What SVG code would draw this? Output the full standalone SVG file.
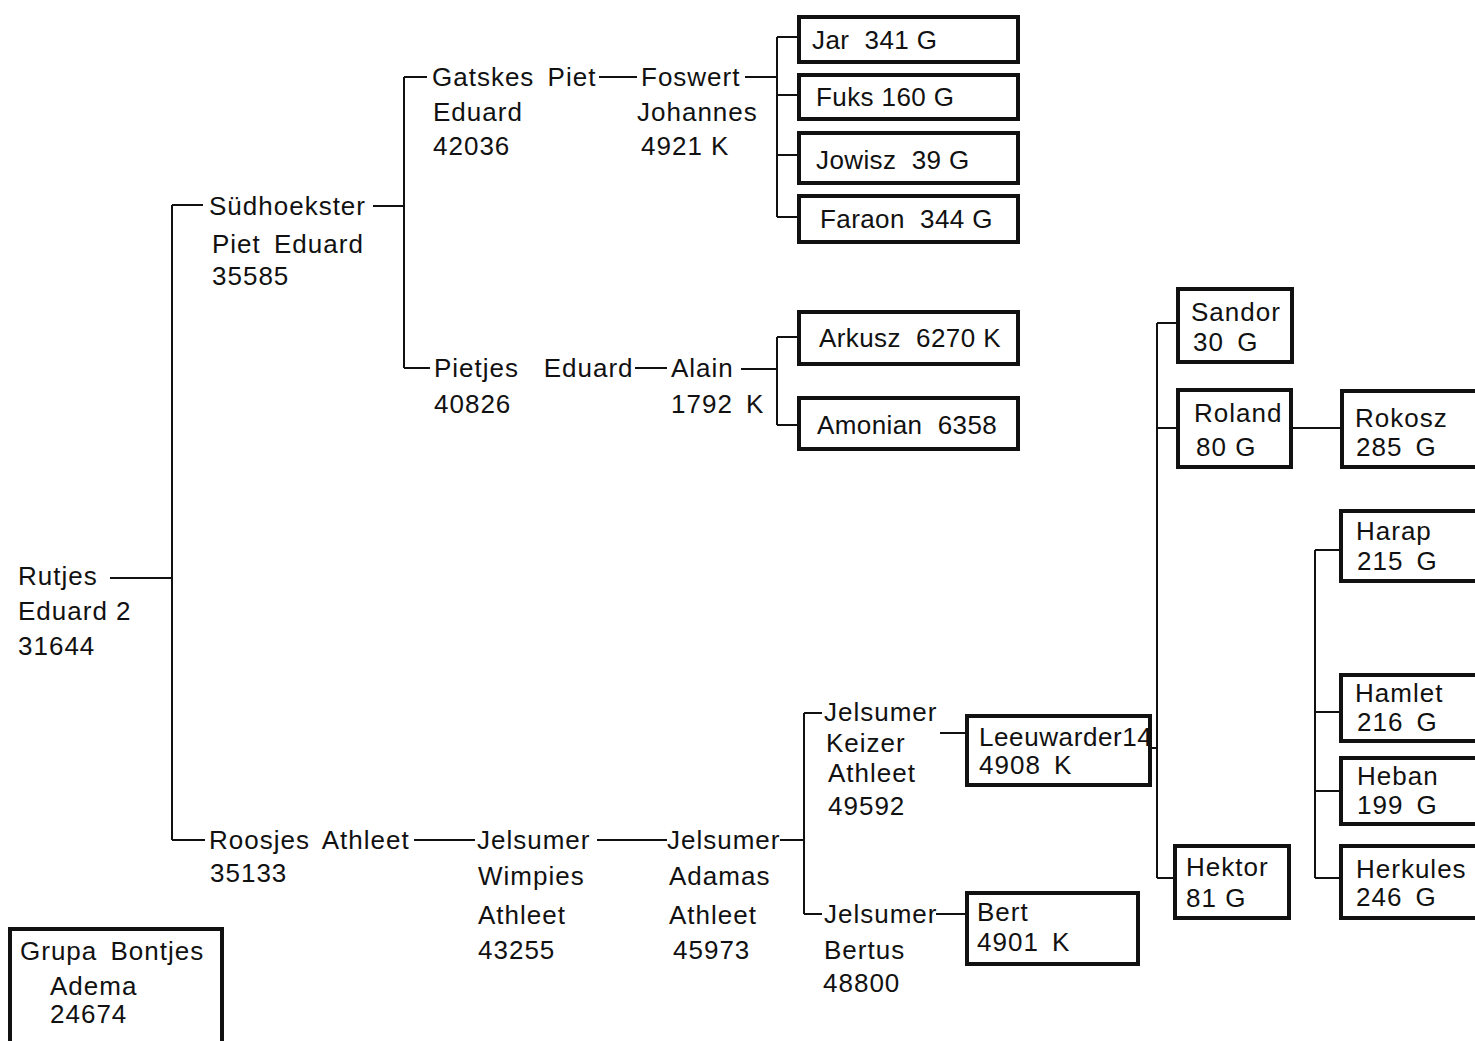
<svg xmlns="http://www.w3.org/2000/svg" width="1475" height="1041" viewBox="0 0 1475 1041">
<style>
text{font-family:"Liberation Sans","DejaVu Sans",sans-serif;font-size:26px;letter-spacing:1px;fill:#111;white-space:pre}
.ws{word-spacing:5px}
.nb{letter-spacing:0.4px}
.ln{stroke:#111;stroke-width:2;fill:none}
.bx{stroke:#111;stroke-width:4;fill:#fff}
</style>
<rect width="1475" height="1041" fill="#fff"/>
<g id="connectors">
<path class="ln" d="M110 578H172M172 205V840M172 205H203M373 206H404M404 77V368M404 77H427M404 368H430"/>
<path class="ln" d="M599 77H637M745 77H777M777 37V217M777 37H799M777 95H799M777 155H799M777 217H799"/>
<path class="ln" d="M635 368H667M741 369H777M777 337V425M777 337H799M777 425H799"/>
<path class="ln" d="M172 840H205M414 840H475M597 840H667M780 840H804M804 713V914M804 713H822M804 914H822"/>
<path class="ln" d="M940 733H967M936 914H967"/>
<path class="ln" d="M1150 748H1157M1157 323V878M1157 323H1178M1157 428H1178M1157 878H1175M1291 428H1342"/>
<path class="ln" d="M1315 550V878M1315 550H1341M1315 712H1341M1315 791H1341M1315 878H1341"/>
</g>
<g id="rutjes"><text x="18" y="585">Rutjes</text><text x="18" y="620">Eduard 2</text><text x="18" y="655">31644</text></g>
<g id="sudhoekster"><text x="209" y="215">Südhoekster</text><text x="212" y="253" class="ws">Piet Eduard</text><text x="212" y="285">35585</text></g>
<g id="gatskes"><text x="432" y="86" class="ws">Gatskes Piet</text><text x="433" y="121">Eduard</text><text x="433" y="155">42036</text></g>
<g id="foswert"><text x="641" y="86">Foswert</text><text x="637" y="121">Johannes</text><text x="641" y="155">4921 K</text></g>
<g id="jar"><rect class="bx" x="799" y="17" width="219" height="45"/><text x="812" y="49" class="nb">Jar  341 G</text></g>
<g id="fuks"><rect class="bx" x="799" y="75" width="219" height="44"/><text x="816" y="106" class="nb">Fuks 160 G</text></g>
<g id="jowisz"><rect class="bx" x="799" y="133" width="219" height="50"/><text x="816" y="169" class="nb">Jowisz  39 G</text></g>
<g id="faraon"><rect class="bx" x="799" y="196" width="219" height="46"/><text x="820" y="228" class="nb">Faraon  344 G</text></g>
<g id="pietjes"><text x="434" y="377">Pietjes   Eduard</text><text x="434" y="413">40826</text></g>
<g id="alain"><text x="671" y="377">Alain</text><text x="671" y="413" class="ws">1792 K</text></g>
<g id="arkusz"><rect class="bx" x="799" y="312" width="219" height="52"/><text x="819" y="347" class="nb">Arkusz  6270 K</text></g>
<g id="amonian"><rect class="bx" x="799" y="398" width="219" height="51"/><text x="817" y="434" class="nb">Amonian  6358</text></g>
<g id="roosjes"><text x="209" y="849" class="ws">Roosjes Athleet</text><text x="210" y="882">35133</text></g>
<g id="wimpies"><text x="477" y="849">Jelsumer</text><text x="478" y="885">Wimpies</text><text x="478" y="924">Athleet</text><text x="478" y="959">43255</text></g>
<g id="adamas"><text x="667" y="849">Jelsumer</text><text x="669" y="885">Adamas</text><text x="669" y="924">Athleet</text><text x="673" y="959">45973</text></g>
<g id="keizer"><text x="824" y="721">Jelsumer</text><text x="826" y="752">Keizer</text><text x="828" y="782">Athleet</text><text x="828" y="815">49592</text></g>
<g id="bertus"><text x="824" y="923">Jelsumer</text><text x="824" y="959">Bertus</text><text x="823" y="992">48800</text></g>
<g id="leeuwarder"><rect class="bx" x="967" y="716" width="183" height="69"/><text x="979" y="746" style="letter-spacing:0.6px">Leeuwarder14</text><text x="979" y="774" class="ws">4908 K</text></g>
<g id="bert"><rect class="bx" x="967" y="893" width="171" height="71"/><text x="977" y="921">Bert</text><text x="977" y="951" class="ws">4901 K</text></g>
<g id="sandor"><rect class="bx" x="1178" y="289" width="114" height="73"/><text x="1191" y="321">Sandor</text><text x="1193" y="351" class="ws">30 G</text></g>
<g id="roland"><rect class="bx" x="1178" y="390" width="113" height="77"/><text x="1194" y="422">Roland</text><text x="1196" y="456">80 G</text></g>
<g id="hektor"><rect class="bx" x="1175" y="846" width="114" height="72"/><text x="1186" y="876">Hektor</text><text x="1186" y="907">81 G</text></g>
<g id="rokosz"><rect class="bx" x="1342" y="391" width="140" height="76"/><text x="1355" y="427">Rokosz</text><text x="1356" y="456" class="ws">285 G</text></g>
<g id="harap"><rect class="bx" x="1341" y="511" width="141" height="70"/><text x="1356" y="540">Harap</text><text x="1357" y="570" class="ws">215 G</text></g>
<g id="hamlet"><rect class="bx" x="1341" y="675" width="141" height="66"/><text x="1355" y="702">Hamlet</text><text x="1357" y="731" class="ws">216 G</text></g>
<g id="heban"><rect class="bx" x="1341" y="758" width="141" height="66"/><text x="1357" y="785">Heban</text><text x="1357" y="814" class="ws">199 G</text></g>
<g id="herkules"><rect class="bx" x="1341" y="846" width="141" height="72"/><text x="1356" y="878">Herkules</text><text x="1356" y="906" class="ws">246 G</text></g>
<g id="grupa"><rect class="bx" x="10" y="929" width="212" height="130"/><text x="20" y="960" class="ws">Grupa Bontjes</text><text x="50" y="995">Adema</text><text x="50" y="1023">24674</text></g>
</svg>
